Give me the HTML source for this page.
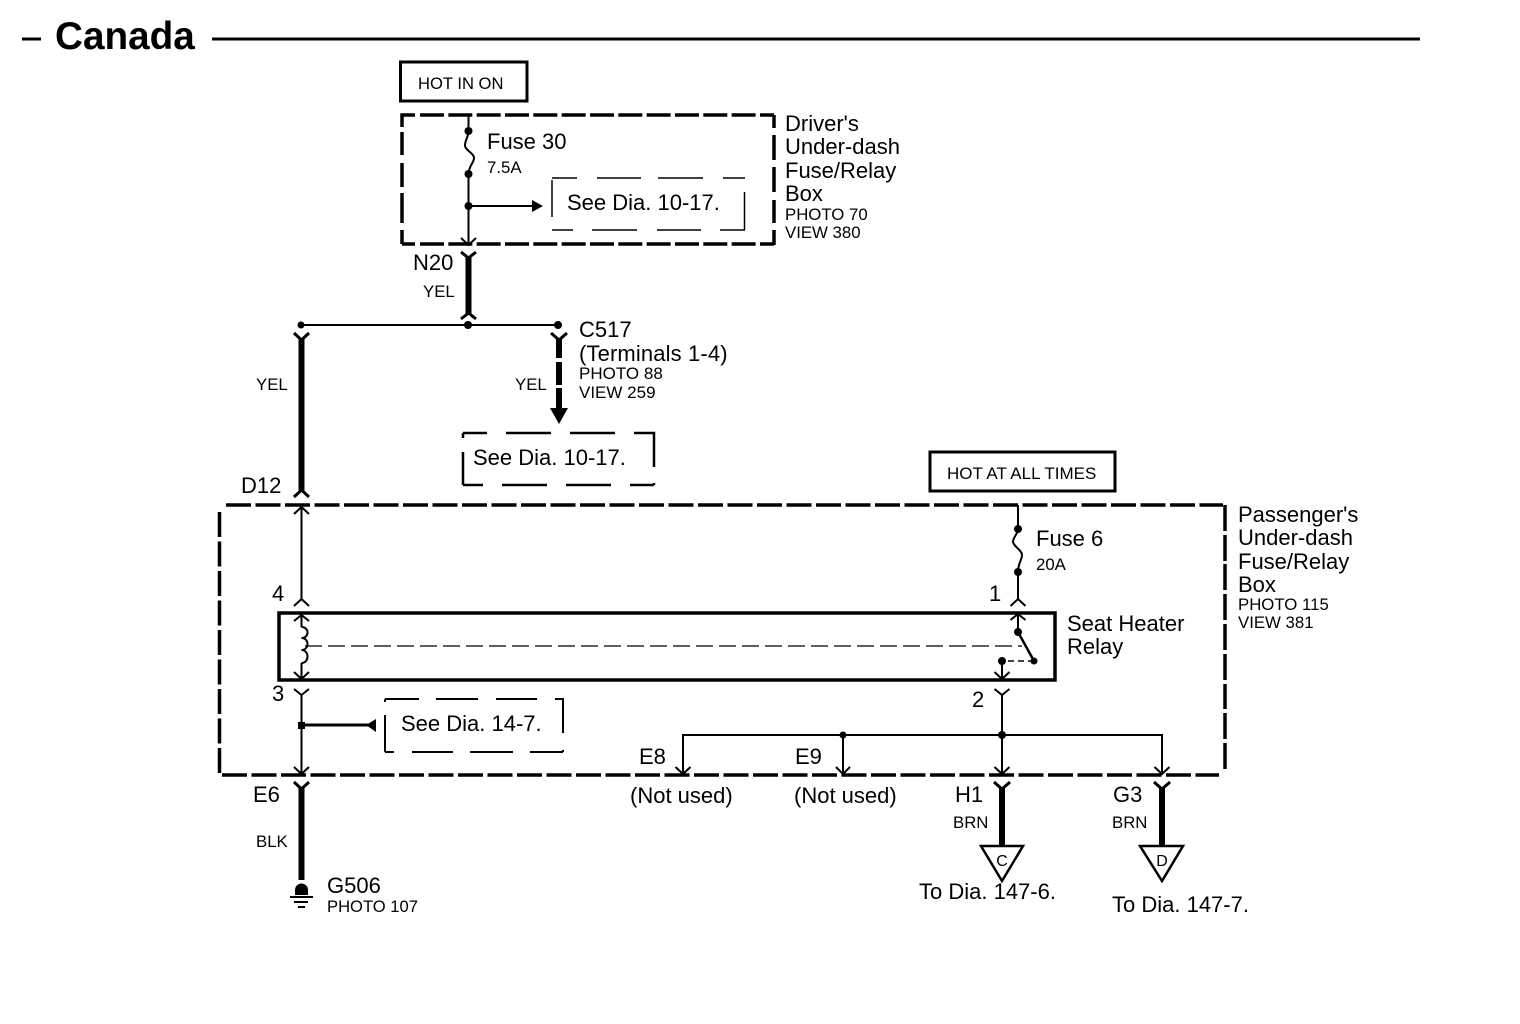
<!DOCTYPE html>
<html><head><meta charset="utf-8"><style>
html,body{margin:0;padding:0;background:#fff;width:1520px;height:1024px;overflow:hidden}
svg{display:block}
text{font-family:"Liberation Sans",sans-serif;font-size:22px;fill:#000}
.s{font-size:16.8px}
.l{fill:none;stroke:#000;stroke-width:2}
.t{fill:none;stroke:#000;stroke-width:1.5}
.c{fill:none;stroke:#000;stroke-width:3}
.w{fill:none;stroke:#000;stroke-width:6}
.b{fill:none;stroke:#000;stroke-width:3.5}
.d{fill:#000}
</style></head><body>
<svg width="1520" height="1024" viewBox="0 0 1520 1024" xmlns="http://www.w3.org/2000/svg">
<rect x="22" y="37.5" width="19" height="3" fill="#000"/>
<text x="55" y="49" style="font-size:38.7px;font-weight:bold">Canada</text>
<path d="M212 39H1420" fill="none" stroke="#000" stroke-width="3"/>

<!-- Driver's box -->
<rect x="400.5" y="62" width="126.5" height="39" fill="none" stroke="#000" stroke-width="3"/>
<text x="418" y="89" style="font-size:16.6px">HOT IN ON</text>
<path class="b" d="M420 115H774" stroke-dasharray="24 4.33"/>
<path class="b" d="M420 244H774" stroke-dasharray="24 4.33"/>
<path class="b" d="M402 244V230M402 223V193M402 187V163M402 155V132M402 127V115H415M402 244H415M774 115V128M774 135V160M774 167V192M774 200V223M774 230V245"/>
<path class="l" d="M468.5 115V131M468.5 174V244M468.5 206H534"/>
<path class="l" d="M468.5 131C468.5 137 464.5 141 465 146C466 151 474 153 474 158C474 163 469 165 468.5 174"/>
<circle class="d" cx="468.5" cy="131" r="4"/><circle class="d" cx="468.5" cy="174" r="4"/><circle class="d" cx="468.5" cy="206" r="4"/>
<path class="d" d="M532 200L543 206L532 212Z"/>
<path class="l" d="M461 238L468.5 245L476 238"/>
<text x="487" y="149">Fuse 30</text><text class="s" x="487" y="173">7.5A</text>
<path class="t" d="M552 178H577M597 178H641M658 178H703M723 178H745M744.5 192V230M552 180V217M552 230H573M592 230H637M657 230H701M720 230H745"/>
<text x="567" y="210">See Dia. 10-17.</text>
<text x="785" y="131">Driver's</text><text x="785" y="154">Under-dash</text><text x="785" y="178">Fuse/Relay</text><text x="785" y="201">Box</text>
<text class="s" x="785" y="220">PHOTO 70</text><text class="s" x="785" y="238">VIEW 380</text>

<!-- N20 -->
<text x="413" y="270">N20</text><text class="s" x="423" y="297">YEL</text>
<path class="c" d="M461 252L468.5 258L476 252M461 319L468.5 313L476 319"/>
<path class="w" d="M468.5 256V315"/>
<path class="l" d="M301 325H558"/>
<circle class="d" cx="301" cy="325" r="3.5"/><circle class="d" cx="468" cy="325" r="4"/><circle class="d" cx="558" cy="325" r="4"/>

<!-- left YEL -->
<path class="c" d="M294 333L301.5 340L309 333M294 497L301.5 490L309 497"/>
<path class="w" d="M301.5 338V492"/>
<text class="s" x="256" y="390">YEL</text><text x="241" y="493">D12</text>

<!-- C517 branch -->
<path class="c" d="M551 333L559 340L567 333"/>
<path class="w" d="M559 338V358M559 362V385M559 388V410"/>
<path class="d" d="M550 408H568L559 424Z"/>
<text class="s" x="515" y="390">YEL</text>
<text x="579" y="337">C517</text><text x="579" y="361" style="letter-spacing:.13px">(Terminals 1-4)</text>
<text x="579" y="379" style="font-size:17px">PHOTO 88</text><text x="579" y="398" style="font-size:17px">VIEW 259</text>
<path class="l" style="stroke-width:2.5" d="M463 433H487M506 433H551M570 433H615M634 433H654V467M654 483V485M463 485H483M502 485H547M566 485H611M630 485H654M463 433V438M463 452V485"/>
<text x="473" y="465">See Dia. 10-17.</text>

<!-- Hot at all times -->
<rect x="930" y="452" width="185" height="39" fill="none" stroke="#000" stroke-width="3"/>
<text x="947" y="479" style="font-size:17px">HOT AT ALL TIMES</text>

<!-- Passenger's box -->
<path class="b" d="M226 505H1223" stroke-dasharray="25 4.5"/>
<path class="b" d="M1225 505V531M1225 535V561M1225 564V590M1225 594V620M1225 624V650M1225 654V680M1225 684V709M1225 713V739M1225 743V769"/>
<path class="b" d="M222 775H1219" stroke-dasharray="25 4.5"/>
<path class="b" d="M219.5 512V775" stroke-dasharray="25 4.5"/>
<text x="1238" y="522">Passenger's</text><text x="1238" y="545">Under-dash</text><text x="1238" y="569">Fuse/Relay</text><text x="1238" y="592">Box</text>
<text class="s" x="1238" y="610">PHOTO 115</text><text class="s" x="1238" y="628">VIEW 381</text>

<!-- Left wires and coil -->
<path class="l" d="M294 514L301.5 507L309 514M294 606L301.5 599L309 606M301.5 507V599"/>
<text x="272" y="601">4</text><text x="272" y="701">3</text>
<path class="l" d="M294 621L301.5 615L309 621M301.5 615V627M301.5 663V679M294 672L301.5 679L309 672"/>
<path class="l" d="M301.5 627c8 0 8 11 0 11c8 0 8 12 0 12c8 0 8 13 0 13"/>
<path fill="none" stroke="#000" stroke-width="1.2" d="M305 646H1022" stroke-dasharray="17 6"/>

<!-- Relay -->
<path d="M279 613H1055V680H279Z" fill="none" stroke="#000" stroke-width="3.5"/>
<text x="1067" y="631">Seat Heater</text><text x="1067" y="654">Relay</text>

<path class="l" d="M294 689L301.5 695L309 689M301.5 695V774M294 767L301.5 774L309 767"/>
<rect class="d" x="298" y="722" width="7" height="7"/>
<path class="c" d="M301 725H368"/>
<path class="d" d="M376 719V732L366 725Z"/>
<path class="l" d="M385 699H419M436 699H478M496 699H537M555 699H563V733M563 750V752M385 752H394M412 752H453M470 752H513M530 752H563M385 699V702M385 715V752"/>
<text x="401" y="731">See Dia. 14-7.</text>

<!-- Right wires -->
<path class="l" d="M1018 505V529M1018 572V600M1010.5 606L1018 599L1025.5 606"/>
<path class="l" d="M1018 529C1018 534 1013 537 1013 542C1014 547 1022 550 1022 555C1022 560 1018 563 1018 572"/>
<circle class="d" cx="1018" cy="529" r="4"/><circle class="d" cx="1018" cy="572" r="4"/>
<text x="1036" y="546">Fuse 6</text><text class="s" x="1036" y="570">20A</text>
<text x="989" y="601">1</text><text x="972" y="707">2</text>
<path class="l" d="M1010.5 620L1018 614L1025.5 620M1018 614V632"/>
<circle class="d" cx="1018" cy="632" r="4"/><circle class="d" cx="1034" cy="661" r="3.5"/><circle class="d" cx="1002" cy="661" r="4"/>
<path class="l" style="stroke-width:2.5" d="M1018 632L1034 661"/>
<path class="t" d="M1034 661H1002" stroke-dasharray="6 4"/>
<path class="l" d="M1002 661V679M994.5 672L1002 679L1009.5 672M994.5 689L1002 695L1009.5 689M1002 695V774M994.5 767L1002 774L1009.5 767"/>
<path class="l" d="M683 774V735H1162V774M843 735V774M1154.5 767L1162 774L1169.5 767M675.5 767L683 774L690.5 767M836 767L843 774L850 767"/>
<circle class="d" cx="1002" cy="735" r="4"/><circle class="d" cx="843" cy="735" r="3.5"/>
<text x="639" y="764">E8</text><text x="795" y="764">E9</text>
<text x="630" y="803">(Not used)</text><text x="794" y="803">(Not used)</text>

<!-- E6 ground -->
<text x="253" y="802">E6</text><text class="s" x="256" y="847">BLK</text>
<path class="c" d="M294 782L301.5 789L309 782"/>
<path class="w" d="M301.5 787V880"/>
<path class="d" d="M295 895V890a6.5 6.5 0 0 1 13 0V895Z"/>
<path class="l" d="M290 897H313M294 902H308M298 907H305"/>
<text x="327" y="893">G506</text><text x="327" y="912" style="font-size:16.6px">PHOTO 107</text>

<!-- H1 -->
<text x="955" y="802">H1</text><text class="s" x="953" y="828">BRN</text>
<path class="c" d="M994 782L1002 789L1010 782"/>
<path class="w" d="M1002 787V846"/>
<path d="M981 846H1023L1002 881Z" fill="#fff" stroke="#000" stroke-width="2.5"/>
<text x="1002" y="866" text-anchor="middle" style="font-size:16px">C</text>
<text x="919" y="899">To Dia. 147-6.</text>

<!-- G3 -->
<text x="1113" y="802">G3</text><text class="s" x="1112" y="828">BRN</text>
<path class="c" d="M1154 782L1162 789L1170 782"/>
<path class="w" d="M1162 787V846"/>
<path d="M1140 846H1183L1162 881Z" fill="#fff" stroke="#000" stroke-width="2.5"/>
<text x="1162" y="866" text-anchor="middle" style="font-size:16px">D</text>
<text x="1112" y="912">To Dia. 147-7.</text>
</svg>
</body></html>
